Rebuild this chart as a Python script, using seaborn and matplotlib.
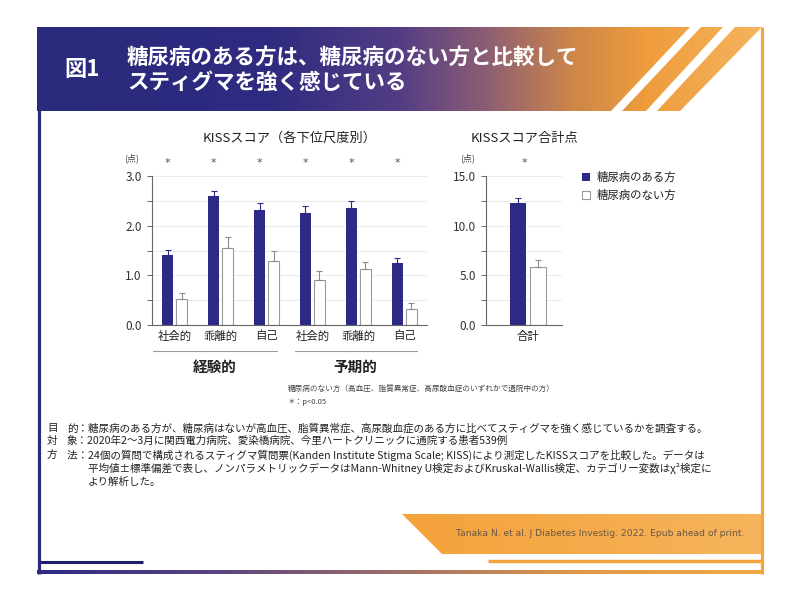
import numpy as np
import pandas as pd
import matplotlib
matplotlib.use('Agg')
import matplotlib.pyplot as plt
import seaborn as sns
from matplotlib.patches import Polygon
from matplotlib.colors import LinearSegmentedColormap
from matplotlib.ticker import MultipleLocator, FormatStrFormatter
from matplotlib.lines import Line2D

# ---------------- data ----------------
sub_keys = ['exp_social', 'exp_alien', 'exp_self', 'ant_social', 'ant_alien', 'ant_self']
sub_labels = ['社会的', '乖離的', '自己', '社会的', '乖離的', '自己']
group_labels = ['経験的', '予期的']
series = ['糖尿病のある方', '糖尿病のない方']
dm_mean = [1.41, 2.60, 2.32, 2.26, 2.36, 1.25]
dm_sd = [0.10, 0.10, 0.14, 0.14, 0.13, 0.10]
nodm_mean = [0.52, 1.56, 1.29, 0.90, 1.12, 0.33]
nodm_sd = [0.12, 0.22, 0.20, 0.18, 0.14, 0.11]
total_label = ['合計']
total_dm_mean = [12.29]
total_dm_sd = [0.53]
total_nodm_mean = [5.79]
total_nodm_sd = [0.77]

NAVY = '#2d2a85'
ORANGE = '#f2a541'

sns.set_theme(style='white')
plt.rcParams['font.family'] = ['Noto Sans CJK JP', 'DejaVu Sans']

W, H = 800, 602
fig = plt.figure(figsize=(8, 6.02), dpi=100)
fig.patch.set_facecolor('white')


def fx(x):
    return x / W


def fy(y):
    return 1 - y / H


# ---------------- background decoration ----------------
bg = fig.add_axes([0, 0, 1, 1], zorder=0)
bg.set_xlim(0, W)
bg.set_ylim(H, 0)
bg.axis('off')

head_cmap = LinearSegmentedColormap.from_list('head', [
    (0.0, '#2a2a7c'), (0.32, '#2e2b80'), (0.50, '#533d84'), (0.62, '#8c5e74'),
    (0.74, '#cd8649'), (0.84, '#ee9c3c'), (1.0, '#f5b45e')])
grad = np.linspace(0, 1, 512).reshape(1, -1)
im = bg.imshow(grad, cmap=head_cmap, extent=[37, 762, 111, 27], aspect='auto', zorder=1)
head_poly = Polygon([(37, 27), (762, 27), (680, 111), (37, 111)], closed=True,
                    transform=bg.transData, facecolor='none', edgecolor='none')
bg.add_patch(head_poly)
im.set_clip_path(head_poly)
for pts in ([(690, 27), (701, 27), (622, 111), (611, 111)],
            [(723, 27), (735, 27), (657, 111), (646, 111)]):
    bg.add_patch(Polygon(pts, closed=True, facecolor='white', edgecolor='none', zorder=2))

# footer band
foot_cmap = LinearSegmentedColormap.from_list('foot', ['#f4a23a', '#f6b45c'])
im2 = bg.imshow(grad, cmap=foot_cmap, extent=[402, 761, 554, 514], aspect='auto', zorder=1)
foot_poly = Polygon([(402, 514), (761, 514), (761, 554), (442, 554)], closed=True,
                    transform=bg.transData, facecolor='none', edgecolor='none')
bg.add_patch(foot_poly)
im2.set_clip_path(foot_poly)

# frame lines
bottom_cmap = LinearSegmentedColormap.from_list('bot', ['#2e2a82', '#5a4580', '#a07068', '#e09a48', '#f2a845'])
bg.imshow(grad, cmap=bottom_cmap, extent=[37, 764, 574, 570.5], aspect='auto', zorder=3)
bg.plot([38.5, 38.5], [27, 574], color='#2b2a7d', lw=2.3, solid_capstyle='butt', zorder=3)
bg.plot([762, 762], [27, 574], color=ORANGE, lw=2.3, solid_capstyle='butt', zorder=3)
bg.plot([40, 143], [561.5, 561.5], color='#1f1d6a', lw=2.2, solid_capstyle='butt', zorder=3)
bg.plot([488, 761], [560.5, 560.5], color=ORANGE, lw=2.5, solid_capstyle='butt', zorder=3)

# header texts
fig.text(fx(82), fy(69), '図1', color='white', fontsize=16, fontweight='bold', ha='center', va='center')
fig.text(fx(127), fy(57), '糖尿病のある方は、糖尿病のない方と比較して', color='white', fontsize=15.5,
         fontweight='bold', ha='left', va='center')
fig.text(fx(127), fy(82), 'スティグマを強く感じている', color='white', fontsize=15.5,
         fontweight='bold', ha='left', va='center')


# ---------------- charts ----------------
def style_axis(ax, major, minor, top):
    ax.set_facecolor('none')
    ax.set_ylim(0, top)
    ax.yaxis.set_major_locator(MultipleLocator(major))
    ax.yaxis.set_minor_locator(MultipleLocator(minor))
    ax.yaxis.set_major_formatter(FormatStrFormatter('%.1f'))
    ax.grid(True, which='both', axis='y', color='#e8e8e8', lw=0.6)
    ax.grid(False, axis='x')
    ax.set_axisbelow(True)
    for s in ['top', 'right']:
        ax.spines[s].set_visible(False)
    for s in ['left', 'bottom']:
        ax.spines[s].set_color('#666666')
        ax.spines[s].set_linewidth(0.8)
    ax.tick_params(axis='y', which='both', left=True, length=3.3, width=0.7, color='#666666',
                   direction='out', labelsize=8.5, labelcolor='#333333', pad=4)
    ax.tick_params(axis='y', which='minor', labelleft=False)
    ax.tick_params(axis='x', length=0, labelsize=8.2, labelcolor='#222222', pad=4)
    ax.set_xlabel('')
    ax.set_ylabel('')


def add_err(ax, means_list, sds_list):
    colors = [NAVY, '#8c8c8c']
    for cont, means, sds, c in zip(ax.containers, means_list, sds_list, colors):
        xs = [p.get_x() + p.get_width() / 2 for p in cont]
        ax.errorbar(xs, means, yerr=[np.zeros(len(sds)), sds], fmt='none', ecolor=c,
                    elinewidth=0.8, capsize=2.5, capthick=0.8, zorder=4)


def color_bars(ax):
    for p in ax.containers[0]:
        p.set_facecolor(NAVY)
        p.set_edgecolor(NAVY)
        p.set_linewidth(0)
    for p in ax.containers[1]:
        p.set_facecolor('white')
        p.set_edgecolor('#9a9a9a')
        p.set_linewidth(0.8)


# chart 1
ax1 = fig.add_axes([fx(152), fy(325), 275 / W, 149 / H], zorder=2)
df1 = pd.DataFrame({'key': sub_keys * 2,
                    'group': [series[0]] * len(sub_keys) + [series[1]] * len(sub_keys),
                    'value': dm_mean + nodm_mean})
sns.barplot(data=df1, x='key', y='value', hue='group', order=sub_keys, hue_order=series,
            palette=[NAVY, 'white'], saturation=1, width=0.61, gap=0.21, errorbar=None,
            legend=False, ax=ax1)
color_bars(ax1)
add_err(ax1, [dm_mean, nodm_mean], [dm_sd, nodm_sd])
style_axis(ax1, 1.0, 0.5, 3.0)
ax1.set_xlim(-0.5, 5.5)
ax1.set_xticks(range(len(sub_labels)))
ax1.set_xticklabels(sub_labels)
for p in ax1.containers[0]:
    ax1.text(p.get_x() + p.get_width() / 2, 1.09, '*', transform=ax1.get_xaxis_transform(),
             ha='center', va='center', fontsize=8, color='#555555', family='DejaVu Sans')

# chart 2
ax2 = fig.add_axes([fx(486), fy(325), 76 / W, 149 / H], zorder=2)
df2 = pd.DataFrame({'key': total_label * 2,
                    'group': series,
                    'value': total_dm_mean + total_nodm_mean})
sns.barplot(data=df2, x='key', y='value', hue='group', hue_order=series,
            palette=[NAVY, 'white'], saturation=1, width=0.526, gap=0.2, errorbar=None,
            legend=False, ax=ax2)
color_bars(ax2)
add_err(ax2, [total_dm_mean, total_nodm_mean], [total_dm_sd, total_nodm_sd])
style_axis(ax2, 5.0, 2.5, 15.0)
ax2.set_xlim(-0.55, 0.45)
ax2.set_xticks([0])
ax2.set_xticklabels(total_label)
ax2.text(-0.05, 1.09, '*', transform=ax2.get_xaxis_transform(), ha='center', va='center',
         fontsize=8, color='#555555', family='DejaVu Sans')

# legend
ax2.legend(handles=[ax2.containers[0][0], ax2.containers[1][0]], labels=series,
           loc='upper left', bbox_to_anchor=(fx(582), fy(172)), bbox_transform=fig.transFigure,
           frameon=False, fontsize=8.2, handlelength=0.7, handleheight=0.7, handletextpad=0.6,
           labelspacing=0.62, borderpad=0, borderaxespad=0, labelcolor='#222222')

# chart titles and units
fig.text(fx(290), fy(138), 'KISSスコア（各下位尺度別）', ha='center', va='center', fontsize=9.5, color='#222222')
fig.text(fx(524), fy(138), 'KISSスコア合計点', ha='center', va='center', fontsize=9.5, color='#222222')
fig.text(fx(132), fy(158), '(点)', ha='center', va='center', fontsize=6.5, color='#444444')
fig.text(fx(468), fy(158), '(点)', ha='center', va='center', fontsize=6.5, color='#444444')

# group brackets
for (x0, x1), lab in zip([(153, 277), (295, 417)], group_labels):
    fig.add_artist(Line2D([fx(x0), fx(x1)], [fy(351), fy(351)], color='#9a9a9a', lw=0.8))
    fig.text(fx((x0 + x1) / 2 - 0.5), fy(367), lab, ha='center', va='center', fontsize=10.5,
             fontweight='bold', color='#222222')

# footnotes
fig.text(fx(288), fy(390), '糖尿病のない方（高血圧、脂質異常症、高尿酸血症のいずれかで通院中の方）',
         ha='left', va='center', fontsize=5.5, color='#444444')
fig.text(fx(288), fy(402), '＊：p<0.05', ha='left', va='center', fontsize=5.5, color='#444444')

# description
desc_rows = [
    ('目', '的：糖尿病のある方が、糖尿病はないが高血圧、脂質異常症、高尿酸血症のある方に比べてスティグマを強く感じているかを調査する。'),
    ('対', '象：2020年2～3月に関西電力病院、愛染橋病院、今里ハートクリニックに通院する患者539例'),
    ('方', '法：24個の質問で構成されるスティグマ質問票(Kanden Institute Stigma Scale; KISS)により測定したKISSスコアを比較した。データは'),
    ('', '平均値±標準偏差で表し、ノンパラメトリックデータはMann-Whitney U検定およびKruskal-Wallis検定、カテゴリー変数はχ²検定に'),
    ('', 'より解析した。'),
]
row_y = [428, 441, 455, 468, 482]
for (a, t), y in zip(desc_rows, row_y):
    if a:
        fig.text(fx(47), fy(y), a, ha='left', va='center', fontsize=7.6, color='#222222')
        fig.text(fx(67), fy(y), t, ha='left', va='center', fontsize=7.6, color='#222222')
    else:
        fig.text(fx(88), fy(y), t, ha='left', va='center', fontsize=7.6, color='#222222')

# citation
fig.text(fx(744), fy(533), 'Tanaka N. et al. J Diabetes Investig. 2022. Epub ahead of print.',
         ha='right', va='center', fontsize=6.6, color='#6a5646', family='DejaVu Sans')

fig.savefig('out.png', dpi=100, facecolor='white')
